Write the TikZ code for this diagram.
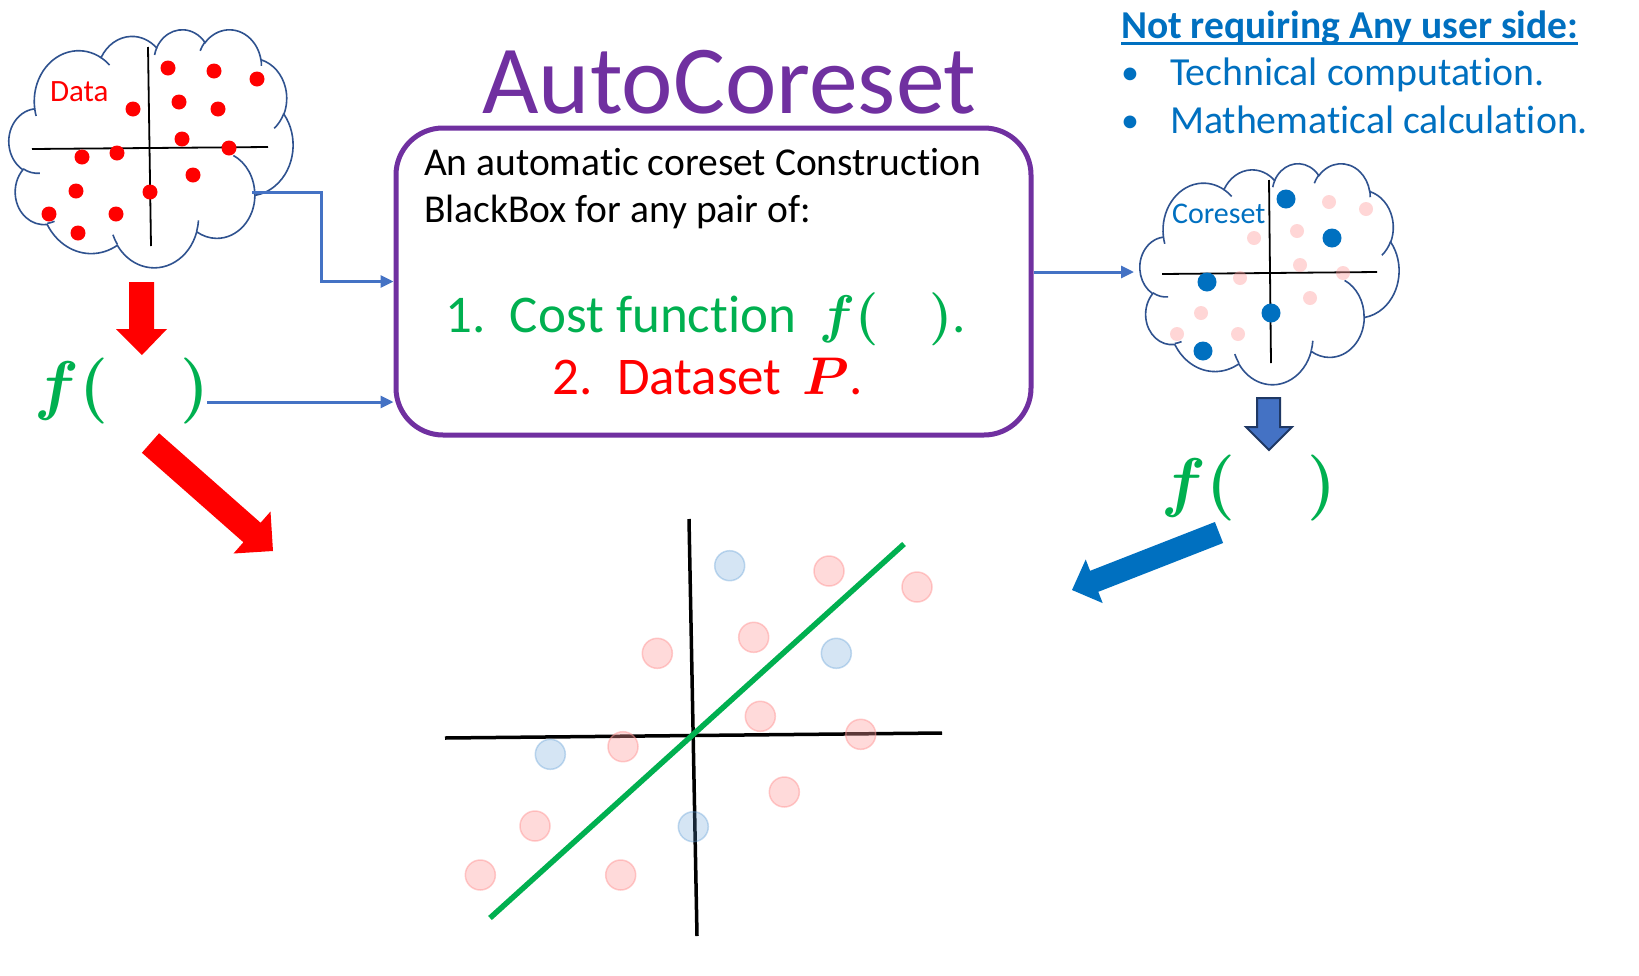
\RequirePackage{fix-cm}
\documentclass[tikz,border=0pt]{standalone}
\usepackage{fontspec}
\setmainfont{Carlito}[Ligatures=NoCommon]
\usetikzlibrary{arrows.meta}
\definecolor{purp}{HTML}{7030A0}
\definecolor{hblue}{HTML}{0070C0}
\definecolor{cblue}{HTML}{4472C4}
\definecolor{cgreen}{HTML}{00B050}
\definecolor{cred}{HTML}{FF0000}
\definecolor{cloudline}{HTML}{2F528F}
\definecolor{navy}{HTML}{1F3864}
\definecolor{pinkc}{HTML}{FF9999}
\definecolor{bluec}{HTML}{5B9BD5}
\newcommand{\fsz}[1]{\fontsize{#1}{#1}\selectfont}
\newcommand{\bmath}[1]{\mbox{\boldmath$#1$}}
% PowerPoint-style cloud: #1,#2 top-left corner, #3 width, #4 height
\newcommand{\pptcloud}[4]{%
\begin{scope}[shift={(#1,#2)}, x=1pt, y=1pt, xscale=#3/432, yscale=-#4/432]
\filldraw[cloudedge, fill=white] (39.00,143.70)
 arc[start angle=-187.745, delta angle=128.11, x radius=67.53pt, y radius=91.90pt]
 arc[start angle=-152.02, delta angle=106.56, x radius=53.33pt, y radius=72.67pt]
 arc[start angle=-153.50, delta angle=116.17, x radius=43.65pt, y radius=59.45pt]
 arc[start angle=-139.71, delta angle=129.50, x radius=48.57pt, y radius=65.95pt]
 arc[start angle=-74.77, delta angle=97.98, x radius=53.33pt, y radius=72.73pt]
 arc[start angle=-37.52, delta angle=119.38, x radius=67.75pt, y radius=92.20pt]
 arc[start angle=0.46, delta angle=121.52, x radius=57.85pt, y radius=78.67pt]
 arc[start angle=16.85, delta angle=129.37, x radius=67.52pt, y radius=92.15pt]
 arc[start angle=58.99, delta angle=91.20, x radius=77.20pt, y radius=105.43pt]
 arc[start angle=-276.69, delta angle=139.80, x radius=43.60pt, y radius=59.18pt]
 arc[start angle=-239.66, delta angle=143.77, x radius=43.45pt, y radius=59.45pt]
 -- cycle;
\draw[cloudedge] (46.93,261.77) arc[start angle=85.55, delta angle=34.81, x radius=43.45pt, y radius=59.45pt];
\draw[cloudedge] (69.28,348.99) arc[start angle=68.23, delta angle=15.07, x radius=43.60pt, y radius=59.18pt];
\draw[cloudedge] (164.78,390.90) arc[start angle=146.22, delta angle=12.25, x radius=67.52pt, y radius=92.15pt];
\draw[cloudedge] (288.27,347.51) arc[start angle=4.74, delta angle=12.11, x radius=67.52pt, y radius=92.15pt];
\draw[cloudedge] (341.29,229.54) arc[start angle=-64.03, delta angle=64.49, x radius=57.85pt, y radius=78.67pt];
\draw[cloudedge] (417.98,153.54) arc[start angle=23.21, delta angle=26.42, x radius=53.33pt, y radius=72.73pt];
\draw[cloudedge] (383.24,54.26) arc[start angle=-10.21, delta angle=11.04, x radius=48.57pt, y radius=65.95pt];
\draw[cloudedge] (290.78,39.52) arc[start angle=-156.28, delta angle=16.57, x radius=48.57pt, y radius=65.95pt];
\draw[cloudedge] (221.41,47.20) arc[start angle=-167.72, delta angle=14.22, x radius=43.65pt, y radius=59.45pt];
\draw[cloudedge] (140.00,51.92) arc[start angle=-59.63, delta angle=13.89, x radius=67.53pt, y radius=91.90pt];
\draw[cloudedge] (41.27,157.89) arc[start angle=163.19, delta angle=9.06, x radius=67.53pt, y radius=91.90pt];
\end{scope}}
\begin{document}
\begin{tikzpicture}[x=1pt,y=-1pt,
  txt/.style={inner sep=0pt, outer sep=0pt},
  cloudedge/.style={draw=cloudline, line width=1.6pt},
  conn/.style={draw=cblue, line width=3pt, -{Triangle[length=13pt,width=12pt]}},
  bigpink/.style={fill=pinkc, draw=pinkc, fill opacity=0.36, draw opacity=0.5, line width=1.5pt},
  bigblue/.style={fill=bluec, draw=bluec, fill opacity=0.25, draw opacity=0.35, line width=1.5pt},
  smallpink/.style={fill=pinkc, fill opacity=0.4},
]
\useasboundingbox (0,0) rectangle (1639,975);
\fill[white] (0,0) rectangle (1639,975);

% title
\node[txt, font=\fsz{97.5}, text=purp, anchor=base] (title) at (729.5,113) {AutoCoreset};

% heading top right
\node[txt, font=\fsz{39.5}\bfseries, text=hblue, anchor=base west] (hd) at (1121,38.6) {Not requiring Any user side:};
\draw[hblue, line width=3pt] ([yshift=-5pt]hd.base west) -- ([yshift=-5pt]hd.base east);
\node[txt, font=\fsz{36}, text=hblue, anchor=base] (bu1) at (1130,84) {•};
\node[txt, font=\fsz{36}, text=hblue, anchor=base] (bu2) at (1130,132) {•};
\node[txt, font=\fsz{39.8}, text=hblue, anchor=base west] (b1) at (1170,85) {Technical computation.};
\node[txt, font=\fsz{39.8}, text=hblue, anchor=base west] (b2) at (1170,133) {Mathematical calculation.};

% left cloud
\pptcloud{9}{29}{284}{238}
\draw[line width=1.8pt] (32,149) -- (268,147);
\draw[line width=1.8pt] (148,47) -- (151,246);
\foreach \x/\y in {168/68,214/71,257/79,133/109,179/102,218/109,182/139,229/148,82/157,117/153,193/175,76/191,150/192,49/214,116/214,78/233}
  \fill[cred] (\x,\y) circle (7.5);
\node[txt, font=\fsz{31}, text=cred, anchor=base west] (dl) at (50,101) {Data};

% right cloud
\pptcloud{1140}{163}{259}{221}
\draw[line width=1.8pt] (1162,274) -- (1377,272);
\draw[line width=1.8pt] (1269,180) -- (1271,363);
\foreach \x/\y in {1329/202,1254/238,1297/231,1300/265,1240/278,1343/273,1310/298,1201/313,1177/334,1238/334,1366/209}
  \fill[smallpink] (\x,\y) circle (7);
\foreach \x/\y in {1286/199,1332/238,1207/282,1271/313,1203/351}
  \fill[hblue] (\x,\y) circle (9.5);
\node[txt, font=\fsz{30}, text=hblue, anchor=base west] (cl) at (1172,223) {Coreset};

% main box
\node[draw=purp, line width=5pt, rounded corners=47pt, minimum width=635pt, minimum height=307pt] (box) at (713.5,281.5) {};
\node[txt, font=\fsz{39.5}, anchor=base west] (l1) at (424,175) {An automatic coreset Construction};
\node[txt, font=\fsz{39.5}, anchor=base west] (l2) at (424,222) {BlackBox for any pair of:};
\node[txt, font=\fsz{53}, text=cgreen, anchor=base] (i1) at (706,332) {1.\hspace{0.45em}Cost function\hspace{0.45em}\bmath{f(\hspace{0.95em})}.};
\node[txt, font=\fsz{53}, text=cred, anchor=base] (i2) at (708,394) {2.\hspace{0.45em}Dataset\hspace{0.4em}\bmath{P}.};

% f( ) labels
\node[txt, font=\fsz{66}, text=cgreen, anchor=base] (fl) at (122,407) {\bmath{f(\hspace{1.1em})}};
\node[txt, font=\fsz{66}, text=cgreen, anchor=base] (fr) at (1249,504) {\bmath{f(\hspace{1.1em})}};

% connectors
\coordinate (c1) at (252,192);
\draw[conn] (c1) -- (321,192) |- (box.west);
\coordinate (fle) at (207,402);
\draw[conn] (fle) -- (box.west |- fle);
\coordinate (ry) at (0,272);
\coordinate (rct) at (1134,272);
\draw[conn] (box.east |- ry) -- (rct);

% block arrows
\fill[cred] (129,282) -- (154,282) -- (154,329) -- (167,329) -- (142,355) -- (116,329) -- (129,329) -- cycle;
\filldraw[fill=cblue, draw=navy, line width=2pt, line join=miter] (1257,398) -- (1280,398) -- (1280,427) -- (1292,427) -- (1269,450) -- (1246,427) -- (1257,427) -- cycle;
\fill[cred] (159.1,433.25) -- (260.6,522.75) -- (270.5,511.5) -- (273,551) -- (233.5,553.5) -- (243.4,542.25) -- (141.9,452.75) -- cycle;
\fill[hblue] (1214.9,522) -- (1090.1,570.8) -- (1085.7,559.5) -- (1072,590) -- (1102.7,603.1) -- (1098.3,591.8) -- (1223.1,543) -- cycle;

% chart
\draw[line width=3.5pt] (445,738) -- (942,733);
\draw[line width=3.5pt] (689,519) -- (697,936);
\draw[cgreen, line width=5.5pt] (490,918) -- (904,544);
\foreach \x/\y in {829/571,917/587,657.3/653.3,753.7/637.3,760.3/716.3,860.7/734.3,623/746.7,784.3/792,535/826,480.3/875,620.7/875}
  \filldraw[bigpink] (\x,\y) circle (15);
\foreach \x/\y in {729.7/565.7,836.3/653.3,550.3/754.3,693.3/826.7}
  \filldraw[bigblue] (\x,\y) circle (15);
\end{tikzpicture}
\end{document}
